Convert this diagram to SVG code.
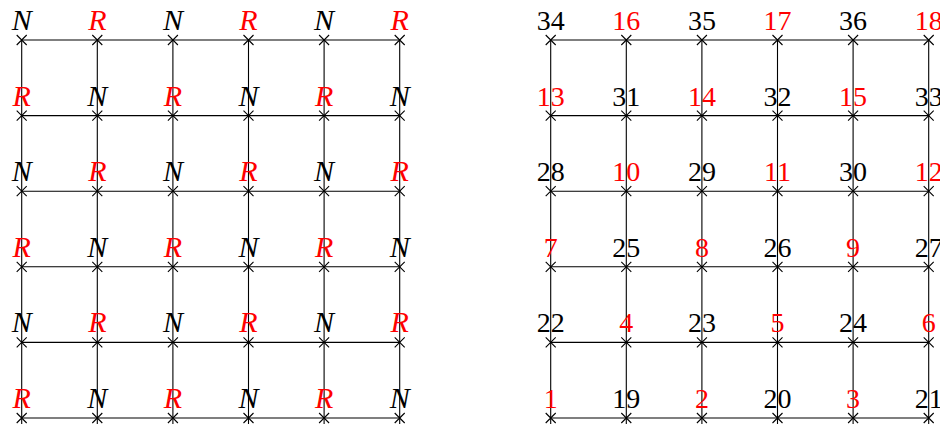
<svg xmlns="http://www.w3.org/2000/svg" width="940" height="424" viewBox="0 0 940 424">
<style>
.g{stroke:#000;stroke-width:1.1;fill:none}
.x{stroke:#000;stroke-width:1.1;fill:none}
.t{font-family:"Liberation Serif","DejaVu Serif",serif;font-size:28px;text-anchor:middle}
.i{font-style:italic;font-size:30px}
.r{fill:#ff0000}
.k{fill:#000}
</style>
<defs>
<path id="cross" class="x" d="M-5,-5L5,5M-5,5L5,-5"/>
</defs>
<g id="connectors">
<path class="g" d="M21.7,40H399.7M21.7,115.6H399.7M21.7,191.2H399.7M21.7,266.8H399.7M21.7,342.4H399.7M21.7,418H399.7M21.7,40V424M97.3,40V424M172.9,40V424M248.5,40V424M324.1,40V424M399.7,40V424"/>
<path class="g" d="M550.7,40H928.7M550.7,115.6H928.7M550.7,191.2H928.7M550.7,266.8H928.7M550.7,342.4H928.7M550.7,418H928.7M550.7,40V424M626.3,40V424M701.9,40V424M777.5,40V424M853.1,40V424M928.7,40V424"/>
</g>
<g id="left-grid">
<g id="L11"><use href="#cross" x="21.7" y="40"/><text class="t i k" x="21.7" y="30">N</text></g>
<g id="L12"><use href="#cross" x="97.3" y="40"/><text class="t i r" x="97.3" y="30">R</text></g>
<g id="L13"><use href="#cross" x="172.9" y="40"/><text class="t i k" x="172.9" y="30">N</text></g>
<g id="L14"><use href="#cross" x="248.5" y="40"/><text class="t i r" x="248.5" y="30">R</text></g>
<g id="L15"><use href="#cross" x="324.1" y="40"/><text class="t i k" x="324.1" y="30">N</text></g>
<g id="L16"><use href="#cross" x="399.7" y="40"/><text class="t i r" x="399.7" y="30">R</text></g>
<g id="L21"><use href="#cross" x="21.7" y="115.6"/><text class="t i r" x="21.7" y="105.6">R</text></g>
<g id="L22"><use href="#cross" x="97.3" y="115.6"/><text class="t i k" x="97.3" y="105.6">N</text></g>
<g id="L23"><use href="#cross" x="172.9" y="115.6"/><text class="t i r" x="172.9" y="105.6">R</text></g>
<g id="L24"><use href="#cross" x="248.5" y="115.6"/><text class="t i k" x="248.5" y="105.6">N</text></g>
<g id="L25"><use href="#cross" x="324.1" y="115.6"/><text class="t i r" x="324.1" y="105.6">R</text></g>
<g id="L26"><use href="#cross" x="399.7" y="115.6"/><text class="t i k" x="399.7" y="105.6">N</text></g>
<g id="L31"><use href="#cross" x="21.7" y="191.2"/><text class="t i k" x="21.7" y="181.2">N</text></g>
<g id="L32"><use href="#cross" x="97.3" y="191.2"/><text class="t i r" x="97.3" y="181.2">R</text></g>
<g id="L33"><use href="#cross" x="172.9" y="191.2"/><text class="t i k" x="172.9" y="181.2">N</text></g>
<g id="L34"><use href="#cross" x="248.5" y="191.2"/><text class="t i r" x="248.5" y="181.2">R</text></g>
<g id="L35"><use href="#cross" x="324.1" y="191.2"/><text class="t i k" x="324.1" y="181.2">N</text></g>
<g id="L36"><use href="#cross" x="399.7" y="191.2"/><text class="t i r" x="399.7" y="181.2">R</text></g>
<g id="L41"><use href="#cross" x="21.7" y="266.8"/><text class="t i r" x="21.7" y="256.8">R</text></g>
<g id="L42"><use href="#cross" x="97.3" y="266.8"/><text class="t i k" x="97.3" y="256.8">N</text></g>
<g id="L43"><use href="#cross" x="172.9" y="266.8"/><text class="t i r" x="172.9" y="256.8">R</text></g>
<g id="L44"><use href="#cross" x="248.5" y="266.8"/><text class="t i k" x="248.5" y="256.8">N</text></g>
<g id="L45"><use href="#cross" x="324.1" y="266.8"/><text class="t i r" x="324.1" y="256.8">R</text></g>
<g id="L46"><use href="#cross" x="399.7" y="266.8"/><text class="t i k" x="399.7" y="256.8">N</text></g>
<g id="L51"><use href="#cross" x="21.7" y="342.4"/><text class="t i k" x="21.7" y="332.4">N</text></g>
<g id="L52"><use href="#cross" x="97.3" y="342.4"/><text class="t i r" x="97.3" y="332.4">R</text></g>
<g id="L53"><use href="#cross" x="172.9" y="342.4"/><text class="t i k" x="172.9" y="332.4">N</text></g>
<g id="L54"><use href="#cross" x="248.5" y="342.4"/><text class="t i r" x="248.5" y="332.4">R</text></g>
<g id="L55"><use href="#cross" x="324.1" y="342.4"/><text class="t i k" x="324.1" y="332.4">N</text></g>
<g id="L56"><use href="#cross" x="399.7" y="342.4"/><text class="t i r" x="399.7" y="332.4">R</text></g>
<g id="L61"><use href="#cross" x="21.7" y="418"/><text class="t i r" x="21.7" y="408">R</text></g>
<g id="L62"><use href="#cross" x="97.3" y="418"/><text class="t i k" x="97.3" y="408">N</text></g>
<g id="L63"><use href="#cross" x="172.9" y="418"/><text class="t i r" x="172.9" y="408">R</text></g>
<g id="L64"><use href="#cross" x="248.5" y="418"/><text class="t i k" x="248.5" y="408">N</text></g>
<g id="L65"><use href="#cross" x="324.1" y="418"/><text class="t i r" x="324.1" y="408">R</text></g>
<g id="L66"><use href="#cross" x="399.7" y="418"/><text class="t i k" x="399.7" y="408">N</text></g>
</g>
<g id="right-grid">
<g id="n34"><use href="#cross" x="550.7" y="40"/><text class="t k" x="550.7" y="30">34</text></g>
<g id="n16"><use href="#cross" x="626.3" y="40"/><text class="t r" x="626.3" y="30">16</text></g>
<g id="n35"><use href="#cross" x="701.9" y="40"/><text class="t k" x="701.9" y="30">35</text></g>
<g id="n17"><use href="#cross" x="777.5" y="40"/><text class="t r" x="777.5" y="30">17</text></g>
<g id="n36"><use href="#cross" x="853.1" y="40"/><text class="t k" x="853.1" y="30">36</text></g>
<g id="n18"><use href="#cross" x="928.7" y="40"/><text class="t r" x="928.7" y="30">18</text></g>
<g id="n13"><use href="#cross" x="550.7" y="115.6"/><text class="t r" x="550.7" y="105.6">13</text></g>
<g id="n31"><use href="#cross" x="626.3" y="115.6"/><text class="t k" x="626.3" y="105.6">31</text></g>
<g id="n14"><use href="#cross" x="701.9" y="115.6"/><text class="t r" x="701.9" y="105.6">14</text></g>
<g id="n32"><use href="#cross" x="777.5" y="115.6"/><text class="t k" x="777.5" y="105.6">32</text></g>
<g id="n15"><use href="#cross" x="853.1" y="115.6"/><text class="t r" x="853.1" y="105.6">15</text></g>
<g id="n33"><use href="#cross" x="928.7" y="115.6"/><text class="t k" x="928.7" y="105.6">33</text></g>
<g id="n28"><use href="#cross" x="550.7" y="191.2"/><text class="t k" x="550.7" y="181.2">28</text></g>
<g id="n10"><use href="#cross" x="626.3" y="191.2"/><text class="t r" x="626.3" y="181.2">10</text></g>
<g id="n29"><use href="#cross" x="701.9" y="191.2"/><text class="t k" x="701.9" y="181.2">29</text></g>
<g id="n11"><use href="#cross" x="777.5" y="191.2"/><text class="t r" x="777.5" y="181.2">11</text></g>
<g id="n30"><use href="#cross" x="853.1" y="191.2"/><text class="t k" x="853.1" y="181.2">30</text></g>
<g id="n12"><use href="#cross" x="928.7" y="191.2"/><text class="t r" x="928.7" y="181.2">12</text></g>
<g id="n7"><use href="#cross" x="550.7" y="266.8"/><text class="t r" x="550.7" y="256.8">7</text></g>
<g id="n25"><use href="#cross" x="626.3" y="266.8"/><text class="t k" x="626.3" y="256.8">25</text></g>
<g id="n8"><use href="#cross" x="701.9" y="266.8"/><text class="t r" x="701.9" y="256.8">8</text></g>
<g id="n26"><use href="#cross" x="777.5" y="266.8"/><text class="t k" x="777.5" y="256.8">26</text></g>
<g id="n9"><use href="#cross" x="853.1" y="266.8"/><text class="t r" x="853.1" y="256.8">9</text></g>
<g id="n27"><use href="#cross" x="928.7" y="266.8"/><text class="t k" x="928.7" y="256.8">27</text></g>
<g id="n22"><use href="#cross" x="550.7" y="342.4"/><text class="t k" x="550.7" y="332.4">22</text></g>
<g id="n4"><use href="#cross" x="626.3" y="342.4"/><text class="t r" x="626.3" y="332.4">4</text></g>
<g id="n23"><use href="#cross" x="701.9" y="342.4"/><text class="t k" x="701.9" y="332.4">23</text></g>
<g id="n5"><use href="#cross" x="777.5" y="342.4"/><text class="t r" x="777.5" y="332.4">5</text></g>
<g id="n24"><use href="#cross" x="853.1" y="342.4"/><text class="t k" x="853.1" y="332.4">24</text></g>
<g id="n6"><use href="#cross" x="928.7" y="342.4"/><text class="t r" x="928.7" y="332.4">6</text></g>
<g id="n1"><use href="#cross" x="550.7" y="418"/><text class="t r" x="550.7" y="408">1</text></g>
<g id="n19"><use href="#cross" x="626.3" y="418"/><text class="t k" x="626.3" y="408">19</text></g>
<g id="n2"><use href="#cross" x="701.9" y="418"/><text class="t r" x="701.9" y="408">2</text></g>
<g id="n20"><use href="#cross" x="777.5" y="418"/><text class="t k" x="777.5" y="408">20</text></g>
<g id="n3"><use href="#cross" x="853.1" y="418"/><text class="t r" x="853.1" y="408">3</text></g>
<g id="n21"><use href="#cross" x="928.7" y="418"/><text class="t k" x="928.7" y="408">21</text></g>
</g>
</svg>
